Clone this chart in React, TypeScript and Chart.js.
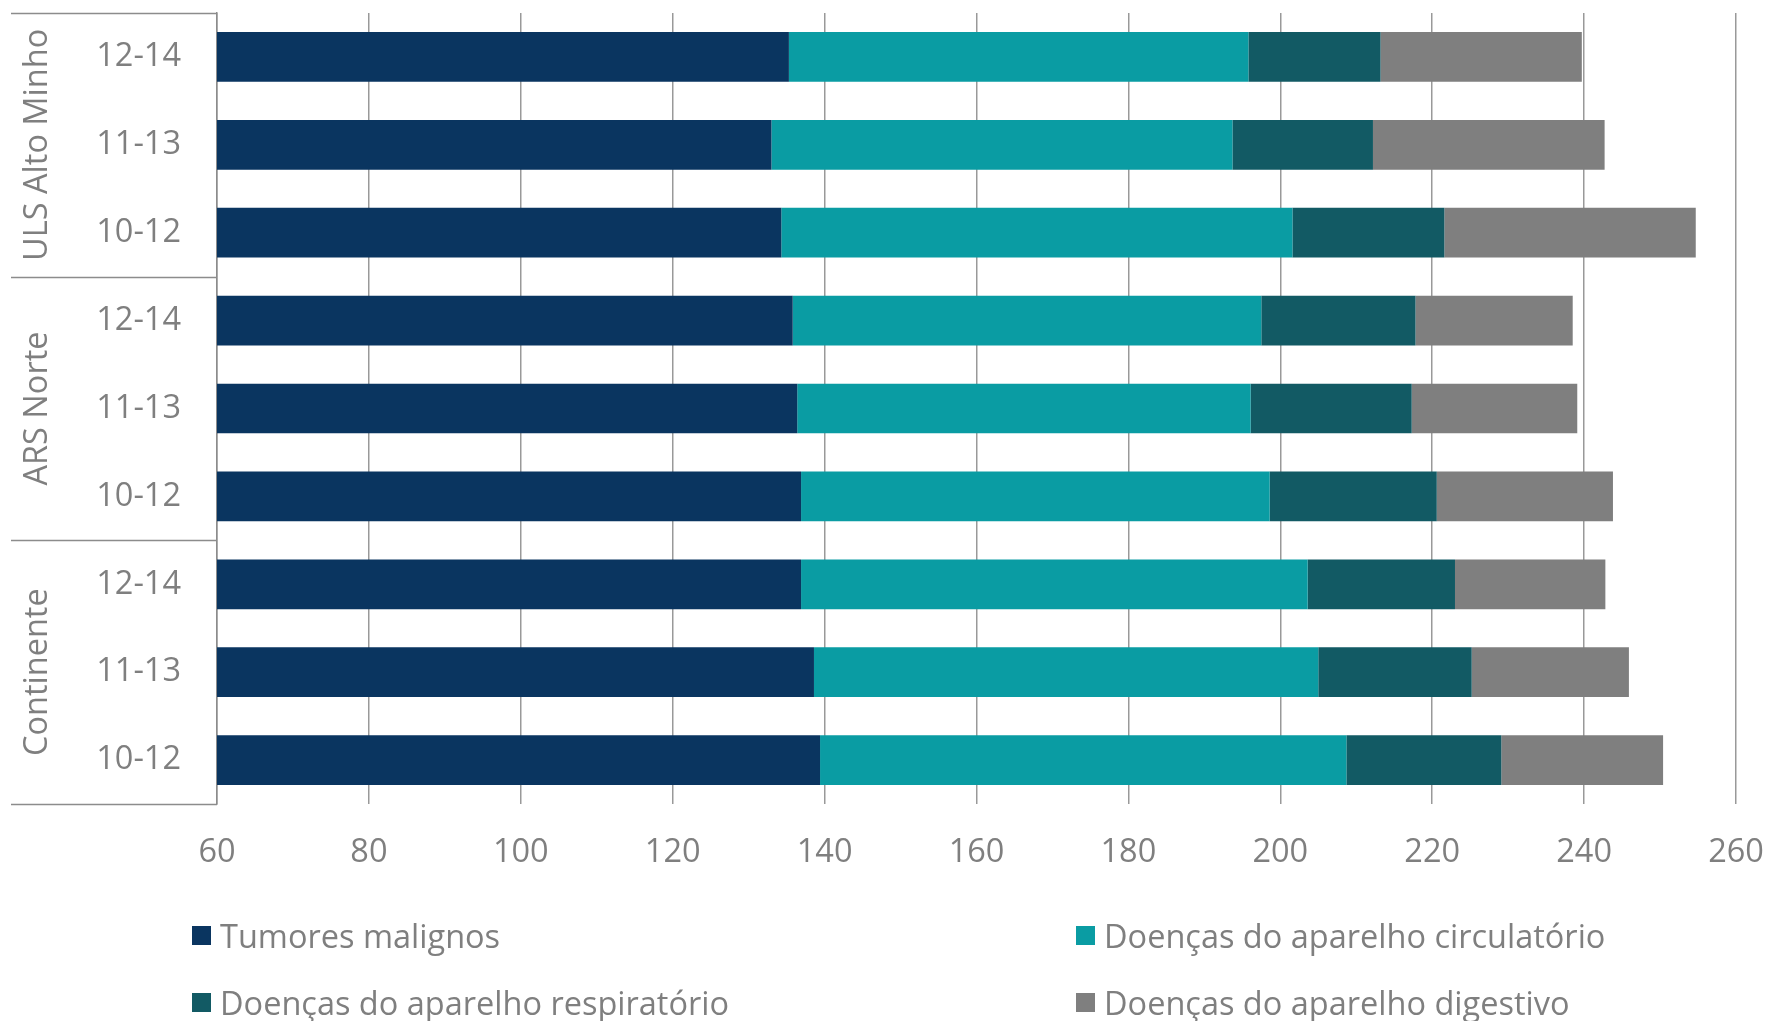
import React, { useEffect, useRef } from 'react';
import { Chart, registerables } from 'chart.js';

Chart.register(...registerables);

const categories = ['12-14', '11-13', '10-12', '12-14', '11-13', '10-12', '12-14', '11-13', '10-12'];
const groups = ['ULS Alto Minho', 'ARS Norte', 'Continente'];
const seriesNames = [
  'Tumores malignos',
  'Doenças do aparelho circulatório',
  'Doenças do aparelho respiratório',
  'Doenças do aparelho digestivo',
];
const tumores = [135.3, 133.0, 134.3, 135.8, 136.4, 136.9, 136.9, 138.6, 139.4];
const circulatorio = [60.5, 60.7, 67.3, 61.7, 59.7, 61.7, 66.7, 66.4, 69.3];
const respiratorio = [17.4, 18.5, 20.0, 20.3, 21.2, 22.0, 19.4, 20.2, 20.4];
const digestivo = [26.5, 30.5, 33.1, 20.7, 21.8, 23.2, 19.8, 20.7, 21.3];
const xMin = 60;
const xMax = 260;
const xStep = 20;

const colors = ['#0a3560', '#0a9ca3', '#125a64', '#7f7f7f'];
const textColor = '#7f7f7f';
const FONT = '"Open Sans", "Noto Sans", sans-serif';
const FS = 32.5;

const groupPlugin = {
  id: 'groupLabels',
  afterDraw(chart: any) {
    const { ctx, chartArea } = chart;
    const top = chartArea.top;
    const bottom = chartArea.bottom;
    const n = groups.length;
    const h = (bottom - top) / n;
    ctx.save();
    ctx.strokeStyle = '#8c8c8c';
    ctx.lineWidth = 1.5;
    for (let i = 0; i <= n; i++) {
      const y = Math.round(top + i * h) + 0.5;
      ctx.beginPath();
      ctx.moveTo(11, y);
      ctx.lineTo(chartArea.left, y);
      ctx.stroke();
    }
    ctx.fillStyle = textColor;
    ctx.font = `${FS}px ${FONT}`;
    ctx.textAlign = 'center';
    ctx.textBaseline = 'middle';
    for (let i = 0; i < n; i++) {
      const cy = top + (i + 0.5) * h;
      ctx.save();
      ctx.translate(38, cy);
      ctx.rotate(-Math.PI / 2);
      ctx.fillText(groups[i], 0, 0);
      ctx.restore();
    }
    ctx.restore();
  },
};

export default function App() {
  const ref = useRef<HTMLCanvasElement | null>(null);

  useEffect(() => {
    if (!ref.current) return;
    const data = [tumores, circulatorio, respiratorio, digestivo];
    const chart = new Chart(ref.current, {
      type: 'bar',
      data: {
        labels: categories,
        datasets: data.map((d, i) => ({
          label: seriesNames[i],
          data: d,
          backgroundColor: colors[i],
          borderWidth: 0,
          barPercentage: 1.0,
          categoryPercentage: 0.566,
        })),
      },
      options: {
        indexAxis: 'y',
        responsive: false,
        animation: false,
        layout: { padding: { left: 0, top: 13, right: 35, bottom: 157 } },
        plugins: {
          legend: { display: false },
          tooltip: { enabled: false },
        },
        scales: {
          x: {
            stacked: true,
            min: xMin,
            max: xMax,
            ticks: {
              stepSize: xStep,
              color: textColor,
              font: { family: FONT, size: FS },
              padding: 29,
              maxRotation: 0,
            },
            grid: { color: '#999999', lineWidth: 1.5, drawTicks: false },
            border: { display: false },
            afterFit: (s: any) => {
              s.height = 60;
              s.paddingLeft = 0;
              s.paddingRight = 0;
              s.paddingTop = 0;
              s.paddingBottom = 0;
            },
          },
          y: {
            stacked: true,
            ticks: {
              color: textColor,
              font: { family: FONT, size: FS },
              padding: 36,
            },
            grid: { display: false, drawTicks: false },
            border: { display: true, color: '#8c8c8c', width: 1.5 },
            afterFit: (s: any) => {
              s.width = 217;
              s.paddingLeft = 0;
              s.paddingRight = 0;
              s.paddingTop = 0;
              s.paddingBottom = 0;
            },
          },
        },
      },
      plugins: [groupPlugin],
    });
    return () => chart.destroy();
  }, []);

  const legendItem = (i: number, left: number, cy: number) => (
    <div
      key={i}
      style={{
        position: 'absolute',
        left,
        top: cy - 22,
        height: 44,
        display: 'flex',
        alignItems: 'center',
        fontFamily: FONT,
        fontSize: FS,
        color: textColor,
        whiteSpace: 'nowrap',
      }}
    >
      <span style={{ display: 'inline-block', width: 19, height: 19, background: colors[i], marginRight: 9 }} />
      <span>{seriesNames[i]}</span>
    </div>
  );

  return (
    <div style={{ position: 'absolute', left: 0, top: 0, width: 1771, height: 1021, overflow: 'hidden', background: '#fff' }}>
      <canvas ref={ref} width={1771} height={1021} style={{ position: 'absolute', left: 0, top: 0 }} />
      {legendItem(0, 192, 935)}
      {legendItem(1, 1076, 935)}
      {legendItem(2, 192, 1002)}
      {legendItem(3, 1076, 1002)}
    </div>
  );
}
